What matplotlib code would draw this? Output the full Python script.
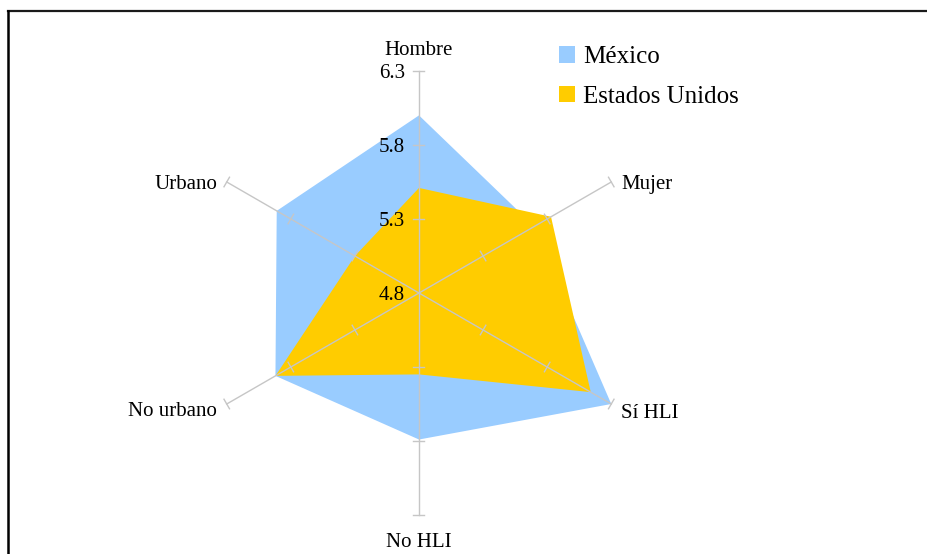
import matplotlib.pyplot as plt
import numpy as np
from matplotlib.lines import Line2D
from matplotlib.patches import Rectangle

# Categories, clockwise from the top
categories = ['Hombre', 'Mujer', 'Sí HLI', 'No HLI', 'No urbano', 'Urbano']
mexico = [6.00, 5.70, 6.30, 5.79, 5.92, 5.91]
usa = [5.51, 5.83, 6.14, 5.35, 5.92, 5.30]
series_names = ['México', 'Estados Unidos']
r_ticks = [4.8, 5.3, 5.8, 6.3]

r_min, r_max = r_ticks[0], r_ticks[-1]
blue = '#99CCFF'
yellow = '#FFCC00'
spoke_color = '#C6C6C6'

plt.rcParams['font.family'] = ['Liberation Serif', 'DejaVu Serif']

fig = plt.figure(figsize=(9.28, 5.54), dpi=100)
ax = fig.add_axes([0, 0, 1, 1])
ax.set_axis_off()

# pixel scale: 148 px per unit of value, centre of the web at (419, 293)
scale = 148.0
cx, cy = 419, 293
W, H = 928, 554
ax.set_xlim(-cx / scale, (W - cx) / scale)
ax.set_ylim(-(H - cy) / scale, cy / scale)

angles = np.deg2rad(90 - 60 * np.arange(len(categories)))


def to_xy(values):
    r = np.asarray(values) - r_min
    return r * np.cos(angles), r * np.sin(angles)


for vals, col in [(mexico, blue), (usa, yellow)]:
    x, y = to_xy(vals)
    ax.fill(x, y, color=col, lw=0, zorder=2)

# spokes with cross ticks at each step
R = r_max - r_min
tick_half = 5.5 / scale
for a in angles:
    ax.plot([0, R * np.cos(a)], [0, R * np.sin(a)], color=spoke_color, lw=1.0, zorder=3)
    for t in r_ticks[1:]:
        rr = t - r_min
        px, py = rr * np.cos(a), rr * np.sin(a)
        nx, ny = -np.sin(a), np.cos(a)
        ax.plot([px - nx * tick_half, px + nx * tick_half],
                [py - ny * tick_half, py + ny * tick_half],
                color=spoke_color, lw=1.0, zorder=3)

# radial value labels on the top spoke
for t in r_ticks:
    ax.annotate(f'{t:.1f}', (0, t - r_min), xytext=(-10, -2), textcoords='offset points',
                ha='right', va='center', fontsize=15, zorder=4)

# category labels at the spoke ends
label_offsets = {
    'Hombre': ((0, 15), 'center'),
    'Mujer': ((7, -1.5), 'left'),
    'Sí HLI': ((7, -7), 'left'),
    'No HLI': ((0, -20), 'center'),
    'No urbano': ((-7, -5.5), 'right'),
    'Urbano': ((-7, -1.5), 'right'),
}
for cat, a in zip(categories, angles):
    off, ha = label_offsets[cat]
    ax.annotate(cat, (R * np.cos(a), R * np.sin(a)), xytext=off, textcoords='offset points',
                ha=ha, va='center', fontsize=15, zorder=4)

# legend
handles = [Rectangle((0, 0), 1, 1, facecolor=c, edgecolor='none') for c in (blue, yellow)]
fig.legend(handles, series_names, loc='upper left', bbox_to_anchor=(559 / W, 1 - 46 / H),
           frameon=False, fontsize=18, handlelength=0.65, handleheight=0.65,
           handletextpad=0.3, labelspacing=0.7, borderpad=0, borderaxespad=0)

# chart frame (runs off the right and bottom edges)
fig.add_artist(Line2D([8.5 / W, 1], [1 - 11 / H, 1 - 11 / H], color='#1a1a1a', lw=1.6,
                      transform=fig.transFigure))
fig.add_artist(Line2D([8.5 / W, 8.5 / W], [0, 1 - 11 / H], color='#000000', lw=1.8,
                      transform=fig.transFigure))

fig.savefig('out.png', dpi=100, facecolor='white')
